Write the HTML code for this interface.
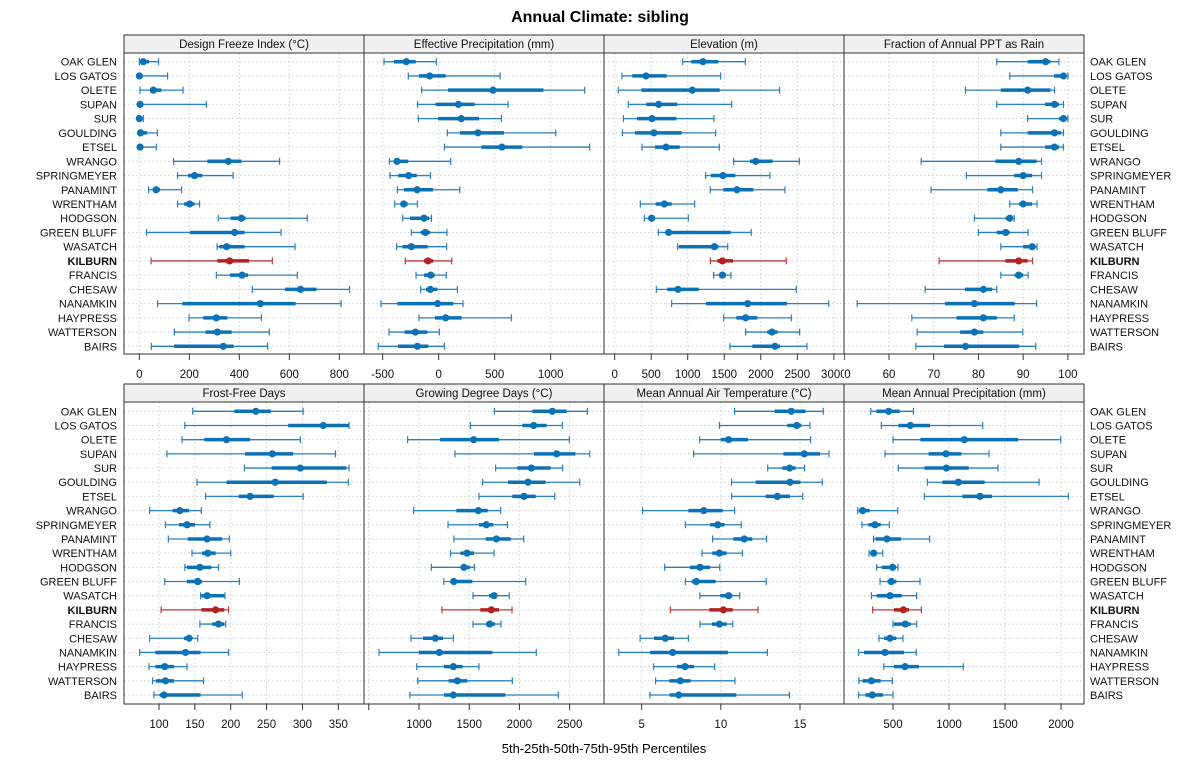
<!DOCTYPE html>
<html><head><meta charset="utf-8"><style>
html,body{margin:0;padding:0;background:#fff;}
svg{display:block;font-family:"Liberation Sans",Arial,sans-serif;}
</style></head><body>
<svg id="chart" width="1200" height="775" viewBox="0 0 1200 775">
<text x="600" y="22" text-anchor="middle" font-size="16" font-weight="bold">Annual Climate: sibling</text>
<text x="604" y="753" text-anchor="middle" font-size="13">5th-25th-50th-75th-95th Percentiles</text>
</svg>
<script>
const sites = ["OAK GLEN","LOS GATOS","OLETE","SUPAN","SUR","GOULDING","ETSEL","WRANGO","SPRINGMEYER","PANAMINT","WRENTHAM","HODGSON","GREEN BLUFF","WASATCH","KILBURN","FRANCIS","CHESAW","NANAMKIN","HAYPRESS","WATTERSON","BAIRS"];
const highlightSite = "KILBURN";
const panelTitles = ["Design Freeze Index (°C)","Effective Precipitation (mm)","Elevation (m)","Fraction of Annual PPT as Rain","Frost-Free Days","Growing Degree Days (°C)","Mean Annual Air Temperature (°C)","Mean Annual Precipitation (mm)"];
const freezeIndex = [[0,5,16,39,77],[0,0,0,5,113],[3,43,56,88,175],[0,0,3,12,268],[0,0,0,5,16],[0,0,5,32,72],[0,0,3,12,68],[137,272,356,408,561],[153,195,221,252,375],[37,56,67,83,169],[153,179,201,221,241],[316,365,408,425,672],[29,203,381,421,567],[311,320,349,421,623],[47,312,361,439,532],[308,363,411,435,632],[452,583,645,709,841],[73,172,484,625,807],[199,256,308,352,488],[140,265,312,369,520],[48,139,336,377,513]];
const effPrecip = [[-488,-399,-289,-205,-21],[-271,-176,-80,62,548],[-152,83,485,935,1304],[-188,-27,176,321,619],[-182,-6,202,360,560],[77,190,351,583,1045],[51,381,565,747,1348],[-440,-390,-372,-271,107],[-435,-360,-268,-196,-74],[-369,-310,-193,-51,188],[-393,-339,-312,-277,-190],[-321,-256,-131,-86,-65],[-244,-161,-119,-77,74],[-375,-324,-244,-98,71],[-298,-131,-95,-48,116],[-202,-131,-71,-36,68],[-161,-113,-74,-12,167],[-515,-369,-9,131,217],[-176,-33,62,205,649],[-443,-304,-208,-101,6],[-539,-363,-190,-92,51]];
const elevation = [[931,1049,1209,1419,1788],[100,242,429,712,1451],[50,365,1063,1437,2258],[187,433,602,858,1601],[119,306,511,844,1359],[105,278,538,917,1382],[374,552,703,890,1432],[1629,1852,1930,2162,2527],[1245,1318,1483,1651,2126],[1309,1487,1674,1898,2331],[351,561,680,780,1095],[406,461,506,538,1008],[598,703,739,1588,1870],[862,880,1364,1419,1547],[1309,1405,1474,1620,2349],[1355,1432,1474,1524,1592],[570,721,867,1150,2486],[780,1250,1820,2359,2929],[1492,1665,1793,1953,2418],[1793,2089,2153,2231,2532],[1578,1884,2194,2263,2632]];
const rainFraction = [[84.1,91,95,96.1,98],[87,96.9,99,99.6,100],[77.1,85,91,96.1,97],[84.1,94.9,97,98,99],[91,98,99,99.6,100],[85,91,97,98.5,99],[85,94.9,97,98,99],[67.2,83.8,89,93,94.1],[77.3,88,90,92,94.1],[69.4,82,85,88.8,92.1],[87,89.1,90,92,93.1],[79.1,86.1,87,87.7,88],[80,84.1,86.1,87,91.1],[85,90,92,92.8,93.1],[71.2,86,89,91,92.1],[85,88.1,89,90,91.1],[68.1,77,81.1,83.1,84.1],[52.9,72.5,79.1,88.1,93],[65.1,75.1,81.1,84.1,88],[66.3,75.9,79.1,81.1,89.9],[66,72.3,77.1,89.1,92.8]];
const frostFree = [[147,205,235,256,301],[136,280,329,365,365],[132,163,194,227,297],[111,220,258,287,346],[219,257,297,361,365],[153,194,262,334,364],[165,211,227,260,301],[87,119,129,142,159],[109,128,139,150,171],[113,140,167,188,198],[146,160,168,179,200],[136,139,157,173,183],[108,139,154,160,212],[158,159,167,191,192],[103,159,179,191,197],[157,174,183,191,193],[87,135,142,146,154],[73,95,137,158,197],[86,95,108,121,139],[91,96,109,121,162],[93,101,107,158,216]];
const growingDD = [[1750,2128,2328,2470,2676],[1511,2029,2142,2271,2427],[887,1209,1544,1797,2497],[1358,2145,2371,2557,2700],[1763,1979,2118,2311,2430],[1634,1886,2085,2261,2600],[1597,1929,2045,2162,2351],[947,1372,1591,1684,1813],[1289,1597,1670,1740,1880],[1348,1664,1770,1913,2042],[1315,1412,1478,1548,1747],[1123,1415,1448,1508,1551],[1246,1342,1346,1531,2062],[1538,1697,1747,1773,1899],[1229,1611,1720,1797,1926],[1538,1667,1704,1757,1816],[920,1040,1163,1239,1342],[602,1000,1202,1730,2168],[977,1249,1342,1435,1597],[987,1295,1382,1481,1929],[910,1249,1342,1860,2387]];
const airTemp = [[10.87,13.4,14.45,15.34,16.47],[9.91,14.2,14.79,15.08,15.63],[8.66,9.99,10.49,11.72,15.67],[8.28,13.95,15.27,16.26,16.83],[12.96,13.88,14.35,14.73,15.29],[10.68,12.2,14.37,15.04,16.41],[10.68,12.83,13.57,14.37,15.17],[5.06,7.95,8.92,10.12,10.87],[7.76,9.32,9.8,10.24,11.29],[9.48,10.79,11.48,11.99,12.89],[8.81,9.46,9.91,10.37,11.36],[6.45,8.05,8.68,9.32,9.93],[7.76,8.16,8.45,9.67,12.87],[8.68,9.97,10.49,10.73,11.19],[6.81,9.27,10.16,10.75,12.35],[8.68,9.44,9.91,10.37,10.75],[4.9,5.78,6.49,7.04,7.95],[3.55,5.53,6.96,10.45,12.94],[5.76,7.23,7.74,8.31,9.61],[5.88,6.75,7.44,8.09,10.89],[5.53,6.77,7.34,10.98,14.33]];
const annualPrecip = [[301,351,461,560,682],[396,548,655,830,1301],[500,744,1137,1616,1997],[429,818,973,1110,1357],[548,780,976,1176,1437],[807,940,1083,1318,1804],[780,1119,1277,1384,2065],[185,196,229,292,542],[223,280,339,390,467],[327,345,446,571,827],[286,301,327,354,408],[354,399,497,524,545],[384,452,485,530,741],[307,354,473,577,711],[318,509,592,643,753],[500,509,610,658,711],[375,420,473,530,589],[193,241,429,598,708],[417,509,607,732,1128],[196,229,307,390,494],[193,253,315,411,500]];
const domainMin = [-61.3,-666.7,-146,49.94,51.2,452.4,2.62,62.5];
const domainMax = [898.7,1476,3139,103.6,385.8,2842,17.78,2205];
const tickLabels0 = [0,200,400,600,800];
const tickLabels1 = [-500,0,500,1000];
const tickLabels2 = [0,500,1000,1500,2000,2500,3000];
const tickLabels3 = [50,60,70,80,90,100];
const tickLabels4 = [100,150,200,250,300,350];
const tickLabels5 = [500,1000,1500,2000,2500];
const tickLabels6 = [5,10,15];
const tickLabels7 = [500,1000,1500,2000];
const hiddenLabels5 = [500];
const panelData = [freezeIndex,effPrecip,elevation,rainFraction,frostFree,growingDD,airTemp,annualPrecip];
const panelTicks = [tickLabels0,tickLabels1,tickLabels2,tickLabels3,tickLabels4,tickLabels5,tickLabels6,tickLabels7];
const panelNames = ['design-freeze-index','effective-precipitation','elevation','fraction-rain','frost-free-days','growing-degree-days','mean-air-temperature','mean-annual-precipitation'];

const NS = "http://www.w3.org/2000/svg";
const svg = document.getElementById('chart');
function mk(tag, attrs, parent){ const e=document.createElementNS(NS,tag); for(const k in attrs) e.setAttribute(k,attrs[k]); (parent||svg).appendChild(e); return e; }
const rows = [{strip:35, top:53, bottom:354, y0:61.7, y1:346.3},{strip:384, top:402, bottom:704, y0:411.3, y1:695}];
const PX = [124,364,604,844], PW = 240;
const defs = mk('defs',{});
for(let p=0;p<8;p++){
  const r = rows[Math.floor(p/4)], left = PX[p%4];
  const cp = mk('clipPath',{id:'clip'+p},defs);
  mk('rect',{x:left,y:0,width:PW,height:775},cp);
  const xs = v => left + (v-domainMin[p])/(domainMax[p]-domainMin[p])*PW;
  const ys = i => r.y0 + i*(r.y1-r.y0)/(sites.length-1);
  const g = mk('g',{});
  
  
  const strip = mk('rect',{x:left,y:r.strip,width:PW,height:r.top-r.strip,fill:'#f0f0f0',stroke:'#333','stroke-width':1},g);
  
  
  const st = mk('text',{x:left+PW/2,y:r.strip+13,'text-anchor':'middle','font-size':11.5,fill:'#111'},g);
  st.textContent = panelTitles[p];
  
  
  panelTicks[p].forEach(t=>{
    const x = xs(t);
    if(x>left+1 && x<left+PW-1) mk('line',{x1:x,x2:x,y1:r.top,y2:r.bottom,stroke:'#ccc','stroke-dasharray':'1.5,2.5','stroke-width':1},g);
  });
  sites.forEach((s,i)=>{ mk('line',{x1:left,x2:left+PW,y1:ys(i),y2:ys(i),stroke:'#ccc','stroke-dasharray':'1.5,2.5','stroke-width':1},g); });
  mk('rect',{x:left,y:r.top,width:PW,height:r.bottom-r.top,fill:'none',stroke:'#333','stroke-width':1},g);
  const tg = mk('g',{'clip-path':'url(#clip'+p+')'},g);
  panelTicks[p].forEach(t=>{
    const x = xs(t);
    mk('line',{x1:x,x2:x,y1:r.bottom,y2:r.bottom+6,stroke:'#333','stroke-width':1},tg);
    if(p===5 && hiddenLabels5.includes(t)) return;
    const tl = mk('text',{x:x,y:r.bottom+24,'text-anchor':'middle','font-size':11.5,fill:'#111'},tg);
    tl.textContent = t;
    
    
  });
  panelData[p].forEach((d,i)=>{
    const y = ys(i), hi = sites[i]===highlightSite;
    const col = hi ? '#b22222' : '#0b72b5';
    const thin = hi ? '#c0393b' : '#2a7fbd';
    const m = mk('g',{},g);
    
    
    mk('line',{x1:xs(d[0]),x2:xs(d[4]),y1:y,y2:y,stroke:thin,'stroke-width':1.3},m);
    mk('line',{x1:xs(d[0]),x2:xs(d[0]),y1:y-3.5,y2:y+3.5,stroke:thin,'stroke-width':1.2},m);
    mk('line',{x1:xs(d[4]),x2:xs(d[4]),y1:y-3.5,y2:y+3.5,stroke:thin,'stroke-width':1.2},m);
    mk('line',{x1:xs(d[1]),x2:xs(d[3]),y1:y,y2:y,stroke:col,'stroke-width':3.5},m);
    mk('circle',{cx:xs(d[2]),cy:y,r:3.6,fill:col},m);
  });
  if(p%4===0 || p%4===3){
    sites.forEach((s,i)=>{
      const right = p%4===3;
      const t = mk('text',{x: right? 1090 : 117, y: ys(i)+4, 'text-anchor': right?'start':'end','font-size':11,fill:'#111','font-weight': s===highlightSite?'bold':'normal'},g);
      t.textContent = s;
      
      
    });
  }
}
</script>
</body></html>
